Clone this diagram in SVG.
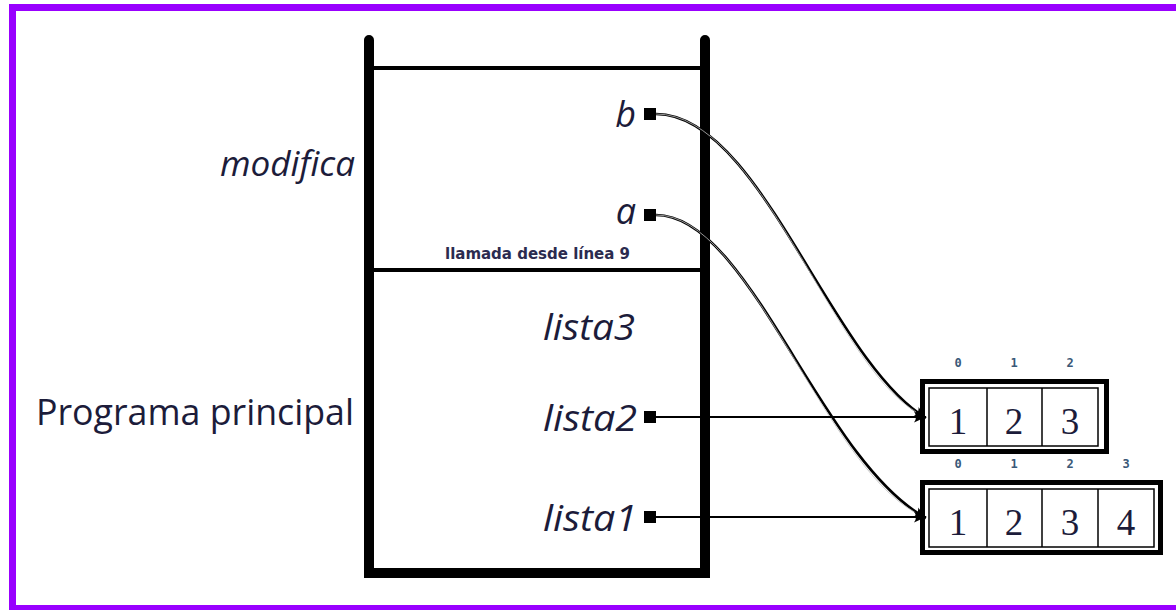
<svg xmlns="http://www.w3.org/2000/svg" width="1176" height="610" viewBox="0 0 1176 610">
<style>
.lbl{font-family:"Open Sans","Noto Sans",sans-serif;fill:#1c1c3a}
.it{font-style:italic}
.num{font-family:"Liberation Serif","DejaVu Serif",serif;font-size:37px;fill:#1c1c3a;text-anchor:middle}
.idx{font-family:"DejaVu Sans Mono","Liberation Mono",monospace;font-size:12px;font-weight:bold;fill:#3a5878;text-anchor:middle}
.wall{fill:none;stroke:#000;stroke-width:10;stroke-linecap:round}
.sep{stroke:#000;stroke-width:4}
.pt{fill:#000}
.outer{fill:none;stroke:#000;stroke-width:5}
.inner{fill:#fff;stroke:#000;stroke-width:1.5}
.cell{stroke:#000;stroke-width:1.5}
.curve{fill:none;stroke:#000;stroke-width:2.6}
.curvein{fill:none;stroke:#bbb;stroke-width:0.8}
.straight{fill:none;stroke:#000;stroke-width:2}
</style>
<defs>
<marker id="ah" viewBox="-12 -6 14 12" markerWidth="14" markerHeight="12" refX="0" refY="0" orient="auto" markerUnits="userSpaceOnUse">
<path d="M0,0 L-12,-5.5 Q-8,0 -12,5.5 Z" fill="#000"/>
</marker>
</defs>
<rect x="12.5" y="7.5" width="1180" height="601" fill="#fff" stroke="#9900ff" stroke-width="7"/>

<g id="stack">
<path class="wall" d="M369,40 V573 H705 V40"/>
<line class="sep" x1="374" y1="68" x2="700" y2="68"/>
<line class="sep" x1="374" y1="270" x2="700" y2="270"/>
</g>

<g id="frame-modifica">
<text class="lbl it" x="220" y="176" font-size="34" textLength="135" lengthAdjust="spacingAndGlyphs">modifica</text>
<text x="445" y="259" font-family="'Liberation Sans Narrow','DejaVu Sans Condensed',sans-serif" font-size="15" font-weight="bold" fill="#2b2b4f" textLength="185" lengthAdjust="spacingAndGlyphs">llamada desde línea 9</text>
</g>

<g id="var-b">
<text class="lbl it" x="636" y="127" font-size="36" text-anchor="end">b</text>
<rect class="pt" x="644" y="108" width="12" height="12"/>
</g>
<g id="var-a">
<text class="lbl it" x="636" y="224" font-size="36" text-anchor="end">a</text>
<rect class="pt" x="644" y="209" width="12" height="12"/>
</g>

<g id="frame-principal">
<text class="lbl" x="36" y="425" font-size="36" textLength="318" lengthAdjust="spacingAndGlyphs">Programa principal</text>
</g>

<g id="var-lista3">
<text class="lbl it" x="543" y="340" font-size="36" textLength="92" lengthAdjust="spacingAndGlyphs">lista3</text>
</g>
<g id="var-lista2">
<text class="lbl it" x="543" y="431" font-size="36" textLength="94" lengthAdjust="spacingAndGlyphs">lista2</text>
<rect class="pt" x="644" y="411" width="12" height="12"/>
</g>
<g id="var-lista1">
<text class="lbl it" x="543" y="531" font-size="36" textLength="94" lengthAdjust="spacingAndGlyphs">lista1</text>
<rect class="pt" x="644" y="511" width="12" height="12"/>
</g>

<g id="array-3">
<text class="idx" x="958" y="367">0</text>
<text class="idx" x="1014" y="367">1</text>
<text class="idx" x="1070" y="367">2</text>
<rect class="outer" x="922.5" y="381.5" width="184" height="70"/>
<rect class="inner" x="929" y="388" width="169" height="58"/>
<line class="cell" x1="987" y1="388" x2="987" y2="446"/>
<line class="cell" x1="1042" y1="388" x2="1042" y2="446"/>
<text class="num" x="958" y="434">1</text>
<text class="num" x="1014" y="434">2</text>
<text class="num" x="1070" y="434">3</text>
</g>

<g id="array-4">
<text class="idx" x="958" y="468">0</text>
<text class="idx" x="1014" y="468">1</text>
<text class="idx" x="1070" y="468">2</text>
<text class="idx" x="1126" y="468">3</text>
<rect class="outer" x="922.5" y="482.5" width="238" height="70"/>
<rect class="inner" x="929" y="489" width="225" height="58"/>
<line class="cell" x1="987" y1="489" x2="987" y2="547"/>
<line class="cell" x1="1042" y1="489" x2="1042" y2="547"/>
<line class="cell" x1="1098" y1="489" x2="1098" y2="547"/>
<text class="num" x="958" y="535">1</text>
<text class="num" x="1014" y="535">2</text>
<text class="num" x="1070" y="535">3</text>
<text class="num" x="1126" y="535">4</text>
</g>

<g id="connectors">
<path class="curve" d="M656,114 C760,114 830,360 926,418" marker-end="url(#ah)"/>
<path class="curvein" d="M656,114 C760,114 830,360 916,412"/>
<path class="curve" d="M656,215 C750,215 820,460 926,518" marker-end="url(#ah)"/>
<path class="curvein" d="M656,215 C750,215 820,460 916,513"/>
<path class="straight" d="M656,417 H926" marker-end="url(#ah)"/>
<path class="straight" d="M656,517 H926" marker-end="url(#ah)"/>
</g>
</svg>
